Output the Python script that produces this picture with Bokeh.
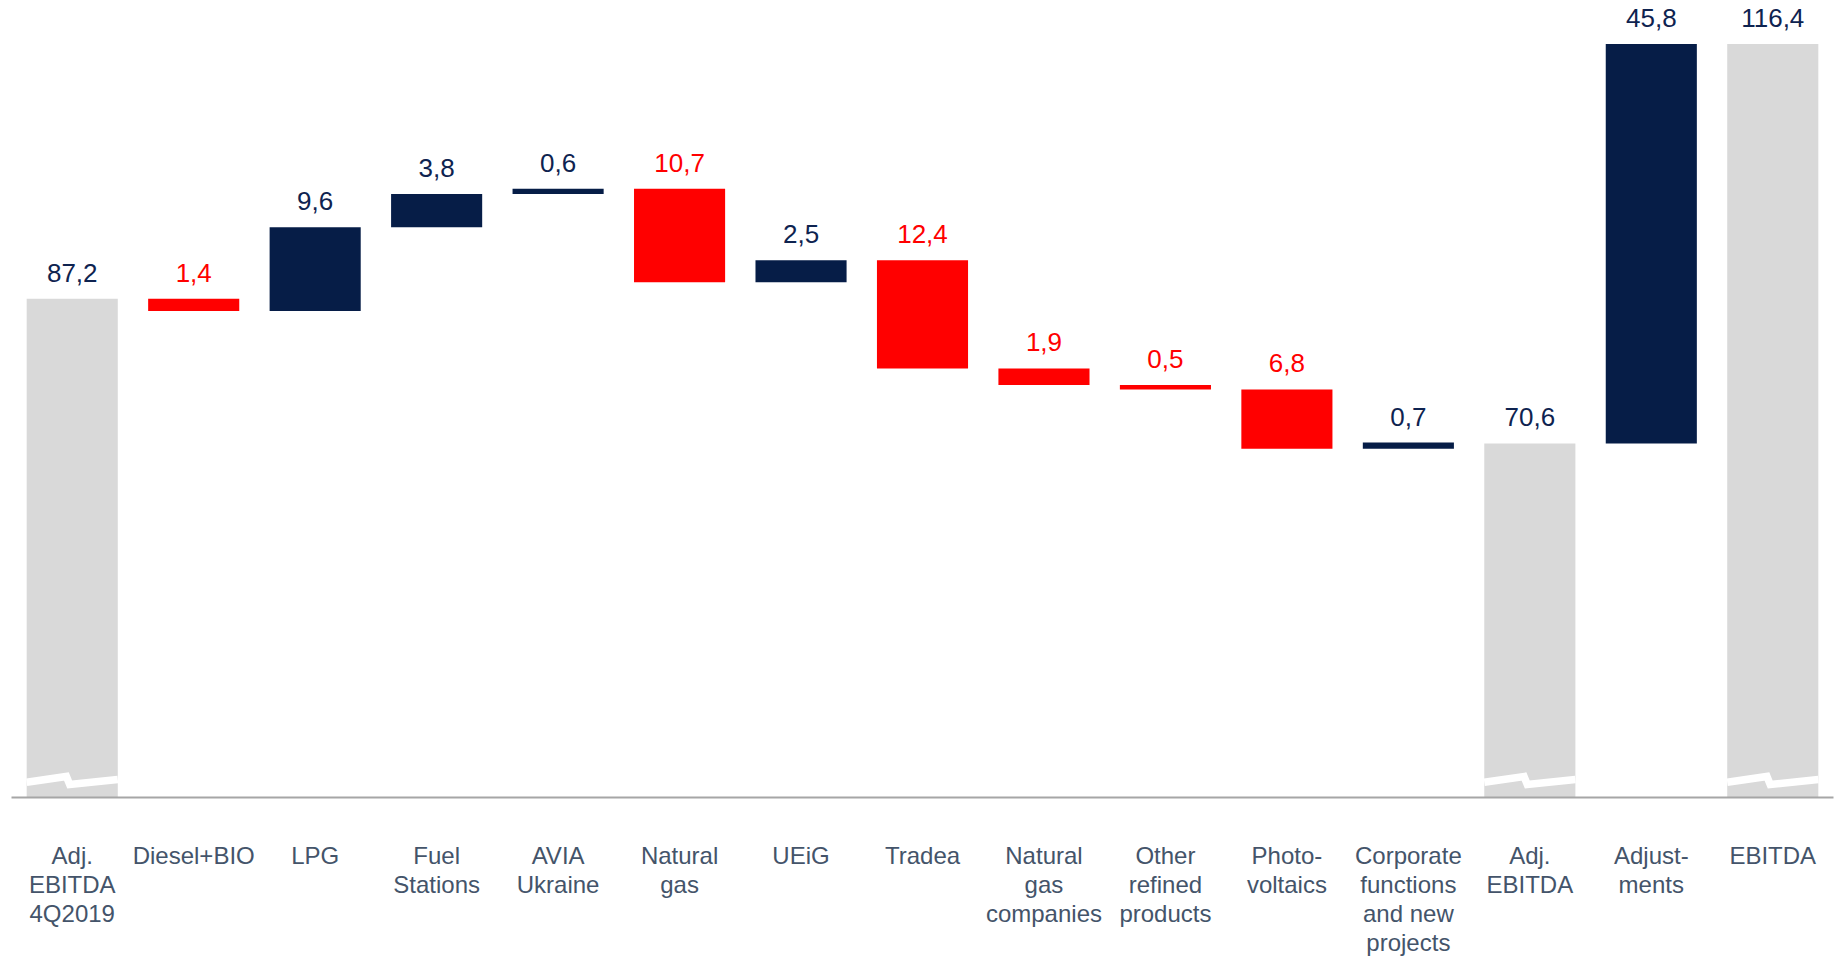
from bokeh.plotting import figure
from bokeh.models import Range1d, FixedTicker, ColumnDataSource
from bokeh.core.properties import value
from bokeh.embed import file_html
from bokeh.resources import INLINE

# ---- data ----
categories = ["Adj.\nEBITDA\n4Q2019", "Diesel+BIO", "LPG", "Fuel\nStations", "AVIA\nUkraine",
              "Natural\ngas", "UEiG", "Tradea", "Natural\ngas\ncompanies", "Other\nrefined\nproducts",
              "Photo-\nvoltaics", "Corporate\nfunctions\nand new\nprojects", "Adj.\nEBITDA",
              "Adjust-\nments", "EBITDA"]
values = [87.2, -1.4, 9.6, 3.8, 0.6, -10.7, 2.5, -12.4, -1.9, -0.5, -6.8, 0.7, 70.6, 45.8, 116.4]
kinds = ["total", "delta", "delta", "delta", "delta", "delta", "delta", "delta", "delta",
         "delta", "delta", "delta", "total", "delta", "total"]
axis_break = 30.0  # value at which the broken axis starts

# ---- styles ----
GRAY = "#D9D9D9"
NAVY = "#061D47"
RED = "#FF0000"
NAVY_TXT = "#0E2350"
CAT_TXT = "#44546A"
FONT = "Liberation Sans"

xs, bottoms, tops, fills, label_txt, label_col = [], [], [], [], [], []
running = 0.0
for i, (v, k) in enumerate(zip(values, kinds)):
    xs.append(i)
    if k == "total":
        bottoms.append(axis_break)
        tops.append(v)
        running = v
        fills.append(GRAY)
        label_col.append(NAVY_TXT)
    else:
        start, end = running, running + v
        bottoms.append(min(start, end))
        tops.append(max(start, end))
        running = end
        fills.append(NAVY if v >= 0 else RED)
        label_col.append(NAVY_TXT if v >= 0 else RED)
    label_txt.append(f"{abs(v):.1f}".replace(".", ","))

src = ColumnDataSource(dict(x=xs, bottom=bottoms, top=tops, fill=fills,
                            lab=label_txt, labcol=label_col))

p = figure(width=1835, height=958, output_backend="svg", toolbar_location=None,
           x_range=Range1d(-0.5, 14.5), y_range=Range1d(axis_break, 121.4),
           min_border_left=11, min_border_right=2, min_border_top=0, min_border_bottom=161)
p.outline_line_color = None
p.grid.visible = False
p.yaxis.visible = False
p.background_fill_color = "white"

p.vbar(x="x", bottom="bottom", top="top", width=0.75, fill_color="fill",
       line_color=None, source=src)

# axis break marks on the total bars
bx, by = [], []
for i, k in enumerate(kinds):
    if k == "total":
        bx.append([i - 0.375, i - 0.048, i - 0.021, i + 0.375])
        by.append([axis_break + 1.75, axis_break + 2.41, axis_break + 1.49, axis_break + 2.06])
p.multi_line(xs=bx, ys=by, line_color="white", line_width=7.5, line_join="miter")

p.text(x="x", y="top", text="lab", text_color="labcol", source=src,
       text_align="center", text_baseline="alphabetic", y_offset=-26,
       text_font=value(FONT), text_font_size="26px")

ax = p.xaxis[0]
ax.ticker = FixedTicker(ticks=list(range(len(categories))))
ax.major_label_overrides = {i: c for i, c in enumerate(categories)}
ax.major_tick_line_color = None
ax.minor_tick_line_color = None
ax.axis_line_color = "#A6A6A6"
ax.axis_line_width = 2
ax.major_label_text_font = FONT
ax.major_label_text_font_size = "24px"
ax.major_label_text_color = CAT_TXT
ax.major_label_text_line_height = 1.08
ax.major_label_standoff = 38

open("out.html", "w").write(file_html(p, INLINE))
